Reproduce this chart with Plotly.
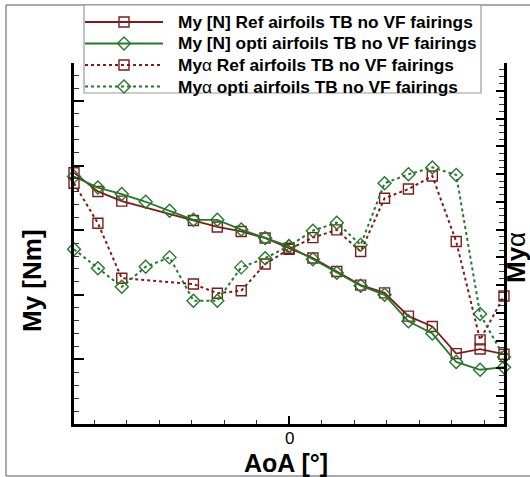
import plotly.graph_objects as go

# Angle of attack stations (deg)
aoa = list(range(-9, 10))

# Pitching moment My (left axis) and its derivative My-alpha (right axis)
my_ref = [3.89, 3.60, 3.45, None, None, 3.15, 3.05, 2.98, 2.88, 2.72, 2.57,
          2.36, 2.15, 2.03, 1.67, 1.51, 1.09, 1.16, 1.08]
my_opti = [3.83, 3.66, 3.56, 3.44, 3.30, 3.16, 3.16, 3.01, 2.88, 2.75, 2.55,
           2.34, 2.14, 2.00, 1.59, 1.40, 0.96, 0.84, 0.88]
mya_ref = [8.67, 7.23, 5.25, None, None, 5.04, 4.71, 4.80, 5.76, 6.29, 6.71,
           6.99, 6.21, 8.13, 8.46, 8.93, 6.57, 3.03, 4.61]
mya_opti = [6.29, 5.61, 4.94, 5.66, 6.00, 4.44, 4.44, 5.64, 5.97, 6.41, 6.96,
            7.25, 6.45, 8.67, 8.99, 9.24, 8.97, 3.96, 2.41]

x_tick_vals = [0]
x_tick_text = ["0"]

series_names = [
    "My [N] Ref airfoils TB no VF fairings",
    "My [N] opti airfoils TB no VF fairings",
    "My<span style='font-weight:normal'>α</span> Ref airfoils TB no VF fairings",
    "My<span style='font-weight:normal'>α</span> opti airfoils TB no VF fairings",
]

RED = "#7e1c1c"
GREEN = "#23782a"
FONT = "Liberation Sans, Arial, sans-serif"

W, H = 530, 477
L, R, T, B = 74, 504, 63, 424  # plot area in pixels


def fx(p):
    return (p - L) / (R - L)


def fy(p):
    return (B - p) / (B - T)


styles = [
    dict(y=my_ref, color=RED, dash="solid", symbol="square-open", axis="y", size=10),
    dict(y=my_opti, color=GREEN, dash="solid", symbol="diamond-open", axis="y", size=10),
    dict(y=mya_ref, color=RED, dash="dot", symbol="square-open", axis="y2", size=10),
    dict(y=mya_opti, color=GREEN, dash="dot", symbol="diamond-open", axis="y2", size=10),
]

fig = go.Figure()
for name, s in zip(series_names, styles):
    fig.add_trace(go.Scatter(
        x=aoa, y=s["y"], yaxis=s["axis"], name=name, mode="lines+markers",
        connectgaps=True, cliponaxis=False, showlegend=False,
        line=dict(color=s["color"], width=2 if s["dash"] == "dot" else 1.8, dash=s["dash"]),
        marker=dict(symbol=s["symbol"], size=s["size"], color=s["color"],
                    line=dict(color=s["color"], width=1.4)),
    ))

shapes = []
annotations = []

# outer frame
frame = dict(type="line", xref="paper", yref="paper", line=dict(color="#8c8c8c", width=1.5), layer="above")
shapes.append(dict(frame, x0=fx(6), x1=fx(6), y0=fy(5), y1=fy(476)))
shapes.append(dict(frame, x0=fx(6), x1=fx(531), y0=fy(476), y1=fy(476)))
shapes.append(dict(frame, x0=fx(6), x1=fx(531), y0=fy(5), y1=fy(5)))

# legend box
shapes.append(dict(type="rect", xref="paper", yref="paper", x0=fx(84), x1=fx(481),
                   y0=fy(93), y1=fy(5), fillcolor="white",
                   line=dict(color="#9a9a9a", width=1.2), layer="above"))

rows = [22, 43.5, 65, 86.5]
for name, s, ry in zip(series_names, styles, rows):
    shapes.append(dict(type="line", xref="paper", yref="paper", x0=fx(85), x1=fx(163),
                       y0=fy(ry), y1=fy(ry), layer="above",
                       line=dict(color=s["color"], width=2, dash=s["dash"])))
    cx = 124
    if s["symbol"].startswith("square"):
        h = 5
        shapes.append(dict(type="rect", xref="paper", yref="paper", x0=fx(cx - h), x1=fx(cx + h),
                           y0=fy(ry + h), y1=fy(ry - h), layer="above",
                           line=dict(color=s["color"], width=1.4)))
    else:
        h = 6.5
        path = "M{},{} L{},{} L{},{} L{},{} Z".format(
            fx(cx - h), fy(ry), fx(cx), fy(ry - h), fx(cx + h), fy(ry), fx(cx), fy(ry + h))
        shapes.append(dict(type="path", xref="paper", yref="paper", path=path, layer="above",
                           line=dict(color=s["color"], width=1.4)))
    annotations.append(dict(text="<b>" + name + "</b>", xref="paper", yref="paper",
                            x=fx(176), y=fy(ry), xanchor="left", yanchor="middle",
                            showarrow=False, font=dict(size=17.3, color="black", family=FONT)))

# x tick label, tucked close under the axis
for v, t in zip(x_tick_vals, x_tick_text):
    annotations.append(dict(text=t, xref="x", yref="paper", x=v, y=fy(438),
                            showarrow=False, xanchor="center", yanchor="middle", borderpad=0,
                            font=dict(size=17, color="black", family=FONT)))

# axis titles
annotations.append(dict(text="<b>My [Nm]</b>", xref="paper", yref="paper", x=fx(32), y=fy(281),
                        textangle=-90, showarrow=False, xanchor="center", yanchor="middle",
                        font=dict(size=26, color="black", family=FONT)))
annotations.append(dict(text="<b>My</b><span style='font-weight:normal'>α</span>", xref="paper",
                        yref="paper", x=fx(516), y=fy(258), textangle=-90, showarrow=False,
                        xanchor="center", yanchor="middle",
                        font=dict(size=26, color="black", family=FONT)))
annotations.append(dict(text="<b>AoA [°]</b>", xref="paper", yref="paper", x=fx(286), y=fy(462.5),
                        showarrow=False, xanchor="center", yanchor="middle", borderpad=0,
                        font=dict(size=25, color="black", family=FONT)))

px_per_unit = (R - L) / (aoa[-1] - aoa[0])
minor_step = 32.5 / px_per_unit

fig.update_layout(
    width=W, height=H, autosize=False,
    margin=dict(l=L, r=W - R, t=T, b=H - B),
    paper_bgcolor="white", plot_bgcolor="white",
    showlegend=False,
    font=dict(family=FONT, color="black"),
    xaxis=dict(range=[aoa[0], aoa[-1]], showgrid=False, zeroline=False,
               showline=True, linecolor="black", linewidth=2.5,
               ticks="inside", tickvals=x_tick_vals, ticklen=8, tickwidth=1.5,
               tickcolor="black", showticklabels=False,
               minor=dict(tickmode="linear", tick0=0, dtick=minor_step, ticks="inside",
                          ticklen=4, tickwidth=1, tickcolor="#333333")),
    yaxis=dict(range=[0, (B - T) / 64.6], showgrid=False, zeroline=False,
               showline=True, linecolor="black", linewidth=2.5,
               ticks="inside", dtick=1, tick0=0, ticklen=10, tickwidth=2, tickcolor="black",
               showticklabels=False,
               minor=dict(dtick=0.2, ticks="inside", ticklen=5, tickwidth=1, tickcolor="#333333")),
    yaxis2=dict(range=[0, (B - T) / 27.77], overlaying="y", side="right", showgrid=False,
                zeroline=False, showline=True, linecolor="black", linewidth=2.5,
                ticks="inside", dtick=1, tick0=0, ticklen=8, tickwidth=1.5, tickcolor="black",
                showticklabels=False,
                minor=dict(dtick=0.25, ticks="inside", ticklen=5, tickwidth=1, tickcolor="#333333")),
    shapes=shapes,
    annotations=annotations,
)

fig.write_html("out.html")
